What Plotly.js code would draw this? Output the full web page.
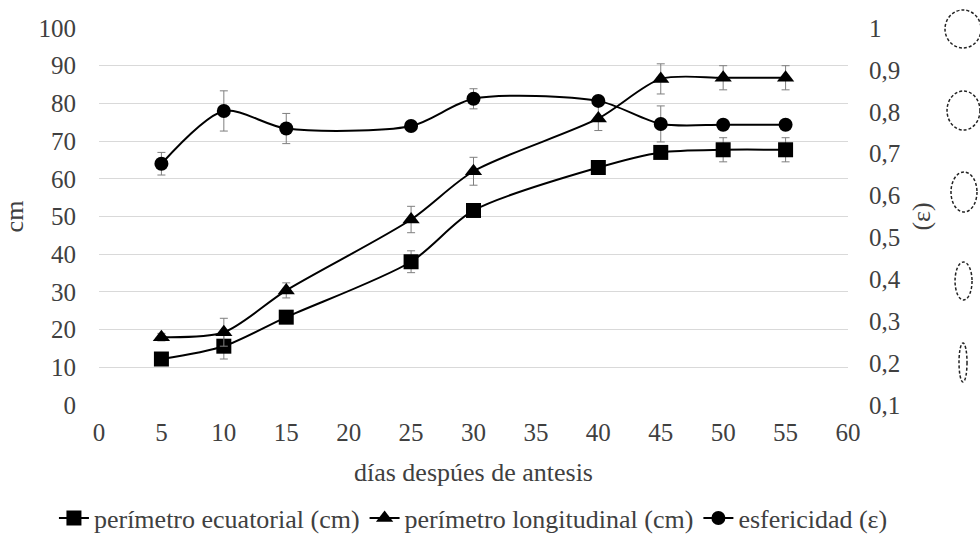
<!DOCTYPE html>
<html>
<head>
<meta charset="utf-8">
<script src="https://cdn.plot.ly/plotly-3.0.1.min.js"></script>
<style>html,body{margin:0;padding:0;background:#fff;}#chart{width:980px;height:550px;}</style>
</head>
<body>
<div id="chart"></div>
<script>
const dias = [5, 10, 15, 25, 30, 40, 45, 50, 55];
const ecuatorial = [12.2, 15.6, 23.3, 38, 51.6, 63, 67, 67.7, 67.7];
const ecuatorialErr = [1, 3.4, 1, 2.9, 1.5, 1, 1.5, 3.2, 3.2];
const longitudinal = [18, 19.3, 30.4, 49.2, 62, 76, 86.5, 86.8, 86.8];
const longitudinalErr = [1, 3.7, 2, 3.5, 3.7, 3.2, 4, 3.2, 3.2];
const esfericidad = [0.676, 0.802, 0.760, 0.766, 0.831, 0.826, 0.771, 0.769, 0.769];
const esfericidadErr = [0.027, 0.048, 0.036, 0.01, 0.024, 0.01, 0.043, 0.005, 0.005];
const rightTickVals = [0.1, 0.2, 0.3, 0.4, 0.5, 0.6, 0.7, 0.8, 0.9, 1];
const rightTickText = ['0,1', '0,2', '0,3', '0,4', '0,5', '0,6', '0,7', '0,8', '0,9', '1'];
const seriesNames = ['perímetro ecuatorial (cm)', 'perímetro longitudinal (cm)', 'esfericidad (ε)'];

const txt = '#404040';
const fontFam = 'Liberation Serif, Times New Roman, serif';
const fs = 25;
const fsT = 26;
const errStyle = (arr) => ({type: 'data', array: arr, visible: true, color: '#7f7f7f', thickness: 1, width: 4});

const traces = [
  {x: dias, y: ecuatorial, name: seriesNames[0], type: 'scatter', mode: 'lines+markers',
   line: {color: '#000', width: 2, shape: 'spline', smoothing: 0.8},
   marker: {symbol: 'square', size: 15, color: '#000'}, error_y: errStyle(ecuatorialErr)},
  {x: dias, y: longitudinal, name: seriesNames[1], type: 'scatter', mode: 'lines+markers',
   line: {color: '#000', width: 2, shape: 'spline', smoothing: 0.8},
   marker: {symbol: 'triangle-up', size: 15, color: '#000'}, error_y: errStyle(longitudinalErr)},
  {x: dias, y: esfericidad, name: seriesNames[2], type: 'scatter', mode: 'lines+markers', yaxis: 'y2',
   line: {color: '#000', width: 2, shape: 'spline', smoothing: 0.8},
   marker: {symbol: 'circle', size: 14, color: '#000'}, error_y: errStyle(esfericidadErr)}
];

function ell(x0, x1, y0, y1) {
  return {type: 'circle', xref: 'paper', yref: 'paper', x0: x0, x1: x1, y0: y0, y1: y1,
    line: {color: '#222', width: 1.5, dash: '3px,2px'}, fillcolor: 'rgba(0,0,0,0)'};
}

const layout = {
  width: 980, height: 550,
  margin: {l: 99, r: 132, t: 28, b: 145, autoexpand: false},
  paper_bgcolor: '#fff', plot_bgcolor: '#fff',
  font: {family: fontFam, size: fs, color: txt},
  showlegend: true,
  legend: {orientation: 'h', x: 1.06, xanchor: 'right', y: -0.3, yanchor: 'middle',
    font: {family: fontFam, size: fsT, color: txt}, itemwidth: 30, tracegroupgap: 0},
  xaxis: {range: [0, 60], dtick: 5, tick0: 0, showgrid: false, zeroline: false, showline: false,
    ticks: '', ticklabelstandoff: 10, tickfont: {family: fontFam, size: fs, color: txt},
    title: {text: 'días despúes de antesis', font: {family: fontFam, size: fsT, color: txt}, standoff: 17}},
  yaxis: {range: [0, 100], dtick: 10, tick0: 0, showgrid: true, gridcolor: '#d9d9d9', gridwidth: 1,
    zeroline: false, showline: false, ticks: '', ticklabelstandoff: 22, tickfont: {family: fontFam, size: fs, color: txt},
    title: {text: 'cm', font: {family: fontFam, size: fsT, color: txt}, standoff: 10}},
  yaxis2: {overlaying: 'y', side: 'right', range: [0.1, 1], tickvals: rightTickVals, ticktext: rightTickText,
    showgrid: false, zeroline: false, showline: false, ticks: '', ticklabelstandoff: 20,
    tickfont: {family: fontFam, size: fs, color: txt},
    title: {text: '(ε)', font: {family: fontFam, size: fsT, color: txt}, standoff: 12}},
  shapes: [
    ell(1.1295, 1.1776, 0.947, 1.0477),
    ell(1.1322, 1.1762, 0.7294, 0.8329),
    ell(1.1375, 1.1722, 0.512, 0.618),
    ell(1.1429, 1.1656, 0.2785, 0.3793),
    ell(1.1482, 1.1589, 0.061, 0.1645)
  ]
};

Plotly.newPlot('chart', traces, layout, {displayModeBar: false, staticPlot: true});
</script>
</body>
</html>
